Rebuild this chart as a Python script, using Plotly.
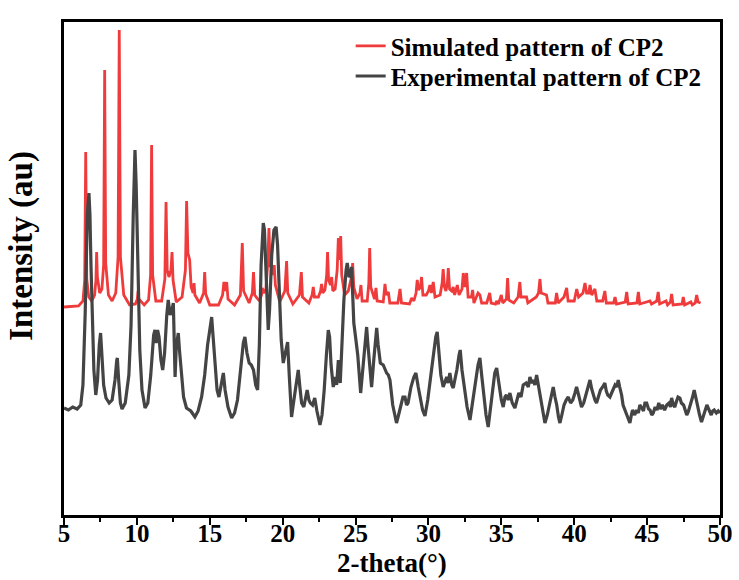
import plotly.graph_objects as go

# Simulated pattern of CP2: (2-theta in degrees, intensity in arbitrary units)
sim_points = [
    (5.0, 208), (6.0, 209), (6.3, 214), (6.42, 235), (6.49, 363), (6.56, 236), (6.7, 218), (6.9, 214),
    (7.1, 220), (7.19, 235), (7.24, 263), (7.29, 238), (7.45, 222), (7.6, 226), (7.72, 250), (7.79, 445),
    (7.86, 252), (8.05, 220), (8.3, 214), (8.55, 222), (8.71, 258), (8.79, 485), (8.87, 258), (9.1, 220),
    (9.5, 210), (9.9, 211), (10.03, 216), (10.08, 224), (10.13, 216), (10.5, 210), (10.8, 215),
    (10.94, 240), (11.01, 370), (11.08, 240), (11.3, 214), (11.7, 214), (11.92, 236), (12.0, 313),
    (12.08, 245), (12.2, 238), (12.34, 245), (12.41, 263), (12.48, 235), (12.7, 213), (13.1, 218),
    (13.33, 245), (13.41, 314), (13.5, 262), (13.62, 255), (13.72, 228), (13.86, 222), (13.92, 232),
    (13.98, 220), (14.3, 212), (14.58, 222), (14.65, 243), (14.72, 221), (15.0, 210), (15.6, 210),
    (15.88, 220), (15.97, 233), (16.06, 224), (16.16, 233), (16.25, 216), (16.7, 210), (17.1, 220),
    (17.23, 272), (17.32, 224), (17.7, 212), (17.92, 222), (18.0, 243), (18.08, 220), (18.4, 214),
    (18.55, 220), (18.6, 227), (18.7, 222), (18.85, 226), (18.98, 252), (19.06, 287), (19.14, 248),
    (19.26, 250), (19.35, 240), (19.42, 250), (19.5, 230), (19.8, 213), (20.15, 224), (20.27, 254),
    (20.35, 222), (20.7, 211), (21.15, 220), (21.28, 243), (21.36, 218), (21.8, 212), (22.02, 220),
    (22.1, 228), (22.18, 218), (22.45, 218), (22.6, 224), (22.67, 231), (22.75, 222), (22.9, 225),
    (23.02, 240), (23.08, 263), (23.15, 235), (23.28, 230), (23.36, 238), (23.44, 224), (23.6, 226),
    (23.74, 245), (23.82, 277), (23.9, 255), (23.98, 279), (24.05, 240), (24.25, 220), (24.5, 224),
    (24.65, 236), (24.75, 240), (24.8, 252), (24.88, 228), (25.1, 216), (25.3, 222), (25.37, 230),
    (25.45, 214), (25.8, 214), (25.91, 232), (25.97, 267), (26.04, 228), (26.3, 216), (26.4, 227),
    (26.48, 214), (26.9, 213), (27.02, 231), (27.1, 220), (27.25, 223), (27.35, 212), (27.9, 212),
    (28.05, 226), (28.15, 212), (28.7, 211), (28.85, 217), (29.0, 214), (29.15, 222), (29.23, 235),
    (29.32, 225), (29.45, 228), (29.53, 238), (29.62, 220), (29.85, 220), (30.0, 224), (30.1, 230),
    (30.2, 222), (30.33, 233), (30.45, 218), (30.8, 220), (30.94, 232), (31.01, 246), (31.1, 228),
    (31.2, 224), (31.3, 232), (31.36, 247), (31.45, 226), (31.6, 224), (31.7, 228), (31.8, 220),
    (31.98, 230), (32.1, 220), (32.3, 226), (32.39, 242), (32.5, 228), (32.62, 242), (32.72, 218),
    (32.95, 218), (33.03, 225), (33.12, 212), (33.4, 222), (33.53, 220), (33.65, 212), (34.0, 212),
    (34.1, 216), (34.2, 222), (34.3, 212), (34.6, 211), (34.68, 214), (34.8, 211), (35.0, 220),
    (35.1, 212), (35.35, 216), (35.43, 237), (35.51, 215), (35.85, 212), (36.15, 218), (36.27, 233),
    (36.35, 218), (36.73, 218), (36.82, 212), (37.4, 218), (37.55, 222), (37.65, 236), (37.73, 222),
    (38.1, 220), (38.2, 212), (38.7, 212), (38.79, 222), (38.9, 212), (39.3, 218), (39.48, 227),
    (39.58, 214), (40.0, 214), (40.17, 226), (40.3, 218), (40.6, 222), (40.74, 232), (40.85, 222),
    (41.0, 222), (41.08, 230), (41.2, 220), (41.42, 226), (41.55, 214), (41.95, 214), (42.1, 224),
    (42.2, 212), (42.7, 212), (42.8, 218), (42.9, 211), (43.5, 213), (43.6, 223), (43.7, 211),
    (44.3, 212), (44.4, 223), (44.5, 211), (45.2, 214), (45.3, 211), (45.66, 214), (45.76, 223),
    (45.86, 211), (46.3, 214), (46.4, 210), (46.6, 213), (46.68, 221), (46.78, 210), (47.4, 211),
    (47.48, 218), (47.58, 210), (48.0, 213), (48.1, 210), (48.3, 212), (48.4, 220), (48.5, 213),
    (48.67, 212),
]

# Experimental pattern of CP2: (2-theta in degrees, intensity in arbitrary units)
exp_points = [
    (5.0, 107), (5.3, 105), (5.6, 108), (5.9, 106), (6.15, 110), (6.3, 130), (6.45, 200), (6.6, 300),
    (6.71, 322), (6.78, 300), (6.85, 250), (6.95, 190), (7.05, 145), (7.18, 120), (7.3, 135), (7.42, 170),
    (7.51, 182), (7.6, 160), (7.72, 130), (7.88, 117), (8.1, 112), (8.3, 115), (8.5, 135), (8.62, 155),
    (8.66, 157), (8.75, 135), (8.87, 112), (8.98, 106), (9.2, 112), (9.45, 140), (9.6, 190), (9.75, 300),
    (9.87, 365), (9.95, 330), (10.05, 250), (10.2, 165), (10.35, 125), (10.56, 107), (10.75, 112),
    (10.95, 140), (11.15, 180), (11.24, 185), (11.32, 172), (11.42, 185), (11.52, 178), (11.65, 155),
    (11.77, 145), (11.9, 162), (12.05, 200), (12.15, 215), (12.28, 200), (12.4, 205), (12.5, 212),
    (12.56, 170), (12.62, 138), (12.7, 168), (12.78, 175), (12.84, 182), (12.92, 165), (13.05, 140),
    (13.2, 118), (13.4, 107), (13.7, 104), (13.98, 98), (14.2, 104), (14.44, 118), (14.65, 140),
    (14.85, 170), (15.05, 192), (15.13, 198), (15.22, 180), (15.35, 150), (15.5, 125), (15.63, 118),
    (15.8, 130), (15.93, 142), (16.05, 125), (16.25, 108), (16.5, 97), (16.7, 102), (16.9, 115),
    (17.1, 140), (17.3, 172), (17.41, 178), (17.55, 162), (17.7, 152), (17.85, 150), (18.0, 145),
    (18.15, 130), (18.28, 125), (18.4, 170), (18.52, 250), (18.67, 292), (18.75, 285), (18.85, 240),
    (18.95, 195), (19.01, 185), (19.1, 205), (19.25, 260), (19.4, 285), (19.55, 288), (19.65, 270),
    (19.75, 225), (19.9, 175), (20.04, 152), (20.2, 165), (20.34, 173), (20.45, 140), (20.61, 98),
    (20.8, 118), (20.95, 135), (21.07, 145), (21.18, 128), (21.3, 112), (21.45, 108), (21.58, 118),
    (21.68, 125), (21.8, 115), (21.9, 112), (22.05, 110), (22.2, 117), (22.35, 104), (22.56, 90),
    (22.7, 100), (22.85, 125), (23.0, 160), (23.13, 185), (23.22, 178), (23.32, 150), (23.47, 128),
    (23.6, 138), (23.7, 130), (23.82, 155), (23.95, 132), (24.05, 165), (24.2, 215), (24.35, 245),
    (24.43, 252), (24.55, 238), (24.65, 240), (24.73, 248), (24.8, 220), (24.88, 192), (25.0, 178),
    (25.15, 160), (25.35, 122), (25.5, 145), (25.65, 175), (25.76, 188), (25.85, 170), (25.97, 145),
    (26.1, 128), (26.25, 155), (26.38, 182), (26.45, 187), (26.55, 170), (26.7, 152), (26.9, 150),
    (27.13, 142), (27.25, 140), (27.36, 135), (27.55, 110), (27.81, 92), (27.95, 100), (28.1, 110),
    (28.25, 118), (28.39, 118), (28.5, 110), (28.6, 112), (28.8, 128), (29.0, 138), (29.14, 142),
    (29.3, 128), (29.45, 115), (29.6, 105), (29.76, 99), (29.95, 115), (30.15, 138), (30.35, 162),
    (30.5, 178), (30.6, 183), (30.72, 160), (30.85, 140), (31.01, 128), (31.15, 133), (31.25, 138),
    (31.35, 132), (31.47, 142), (31.6, 130), (31.7, 127), (31.85, 138), (31.95, 145), (32.1, 160),
    (32.18, 165), (32.3, 145), (32.5, 125), (32.65, 108), (32.85, 95), (33.0, 108), (33.2, 130),
    (33.4, 150), (33.53, 157), (33.65, 140), (33.8, 120), (33.95, 100), (34.1, 88), (34.25, 105),
    (34.4, 125), (34.55, 142), (34.68, 147), (34.8, 135), (34.9, 125), (35.0, 115), (35.13, 108),
    (35.25, 118), (35.35, 120), (35.47, 115), (35.59, 122), (35.75, 112), (35.93, 107), (36.05, 115),
    (36.2, 122), (36.35, 118), (36.5, 130), (36.7, 132), (36.85, 128), (36.96, 138), (37.1, 132),
    (37.2, 135), (37.3, 130), (37.42, 140), (37.55, 128), (37.7, 115), (37.85, 100), (37.99, 92),
    (38.15, 100), (38.3, 110), (38.45, 122), (38.56, 128), (38.68, 118), (38.8, 110), (38.92, 98),
    (39.02, 92), (39.15, 100), (39.3, 110), (39.45, 115), (39.59, 118), (39.75, 112), (39.9, 115),
    (40.05, 122), (40.16, 128), (40.3, 120), (40.4, 112), (40.5, 108), (40.65, 112), (40.8, 120),
    (40.95, 128), (41.08, 135), (41.2, 126), (41.3, 120), (41.42, 115), (41.53, 112), (41.65, 118),
    (41.8, 125), (41.95, 128), (42.1, 132), (42.2, 124), (42.3, 120), (42.45, 118), (42.56, 122),
    (42.7, 126), (42.8, 130), (42.92, 128), (43.02, 135), (43.12, 128), (43.25, 120), (43.35, 110),
    (43.48, 105), (43.6, 100), (43.72, 96), (43.82, 92), (43.92, 100), (44.0, 105), (44.15, 100),
    (44.28, 105), (44.4, 102), (44.5, 110), (44.6, 108), (44.75, 104), (44.85, 112), (44.97, 112),
    (45.1, 106), (45.2, 105), (45.32, 100), (45.42, 102), (45.55, 108), (45.68, 105), (45.8, 112),
    (45.92, 106), (46.05, 110), (46.2, 105), (46.35, 110), (46.5, 112), (46.6, 108), (46.68, 117),
    (46.8, 110), (46.9, 108), (47.0, 113), (47.12, 118), (47.25, 117), (47.35, 112), (47.5, 110),
    (47.6, 104), (47.72, 100), (47.82, 103), (47.92, 108), (48.0, 110), (48.12, 118), (48.23, 125),
    (48.32, 118), (48.45, 110), (48.6, 100), (48.73, 93), (48.85, 98), (49.0, 105), (49.1, 110),
    (49.19, 107), (49.3, 102), (49.4, 100), (49.5, 104), (49.6, 105), (49.75, 102), (49.88, 104),
    (50.0, 102),
]

sim_theta = [p[0] for p in sim_points]
sim_int = [p[1] for p in sim_points]
exp_theta = [p[0] for p in exp_points]
exp_int = [p[1] for p in exp_points]

x_ticks = [5, 10, 15, 20, 25, 30, 35, 40, 45, 50]

FONT = "Liberation Serif"
legend_font = dict(family=FONT, size=25, color="black")

fig = go.Figure()
fig.add_trace(go.Scatter(x=sim_theta, y=sim_int, mode="lines",
                         name="<b>Simulated pattern of CP2</b>", legend="legend",
                         line=dict(color="#ef3b3b", width=2.8)))
fig.add_trace(go.Scatter(x=exp_theta, y=exp_int, mode="lines",
                         name="<b>Experimental pattern of CP2</b>", legend="legend2",
                         line=dict(color="#444444", width=3.2)))

fig.update_layout(
    width=739, height=580,
    margin=dict(l=64, r=19, t=22, b=65, autoexpand=False),
    plot_bgcolor="white", paper_bgcolor="white",
    font=dict(family=FONT, color="black"),
    showlegend=True,
    legend=dict(x=0.437, y=0.951, xanchor="left", yanchor="middle",
                bgcolor="rgba(0,0,0,0)", borderwidth=0, font=legend_font),
    legend2=dict(x=0.437, y=0.890, xanchor="left", yanchor="middle",
                 bgcolor="rgba(0,0,0,0)", borderwidth=0, font=legend_font),
    xaxis=dict(range=[5, 50], tickvals=x_ticks, ticktext=[f"<b>{t}</b>" for t in x_ticks],
               ticks="outside", ticklen=7, tickwidth=2, tickcolor="black",
               ticklabelstandoff=-13,
               minor=dict(dtick=2.5, ticks="outside", ticklen=4, tickwidth=2, tickcolor="black"),
               showline=True, linecolor="black", linewidth=2.5, mirror=True,
               showgrid=False, zeroline=False, automargin=False,
               tickfont=dict(family=FONT, size=25, color="black")),
    yaxis=dict(range=[0, 493], showticklabels=False, ticks="", automargin=False,
               showline=True, linecolor="black", linewidth=2.5, mirror=True,
               showgrid=False, zeroline=False),
    annotations=[
        dict(text="<b>Intensity (au)</b>", textangle=-90, xref="paper", yref="paper",
             x=-0.064, y=0.546, xanchor="center", yanchor="middle", showarrow=False,
             font=dict(family=FONT, size=33, color="black")),
        dict(text="<b>2-theta(°)</b>", xref="paper", yref="paper",
             x=0.5, y=-0.097, xanchor="center", yanchor="middle", showarrow=False,
             font=dict(family=FONT, size=27, color="black")),
    ],
)

fig.write_html("out.html")
